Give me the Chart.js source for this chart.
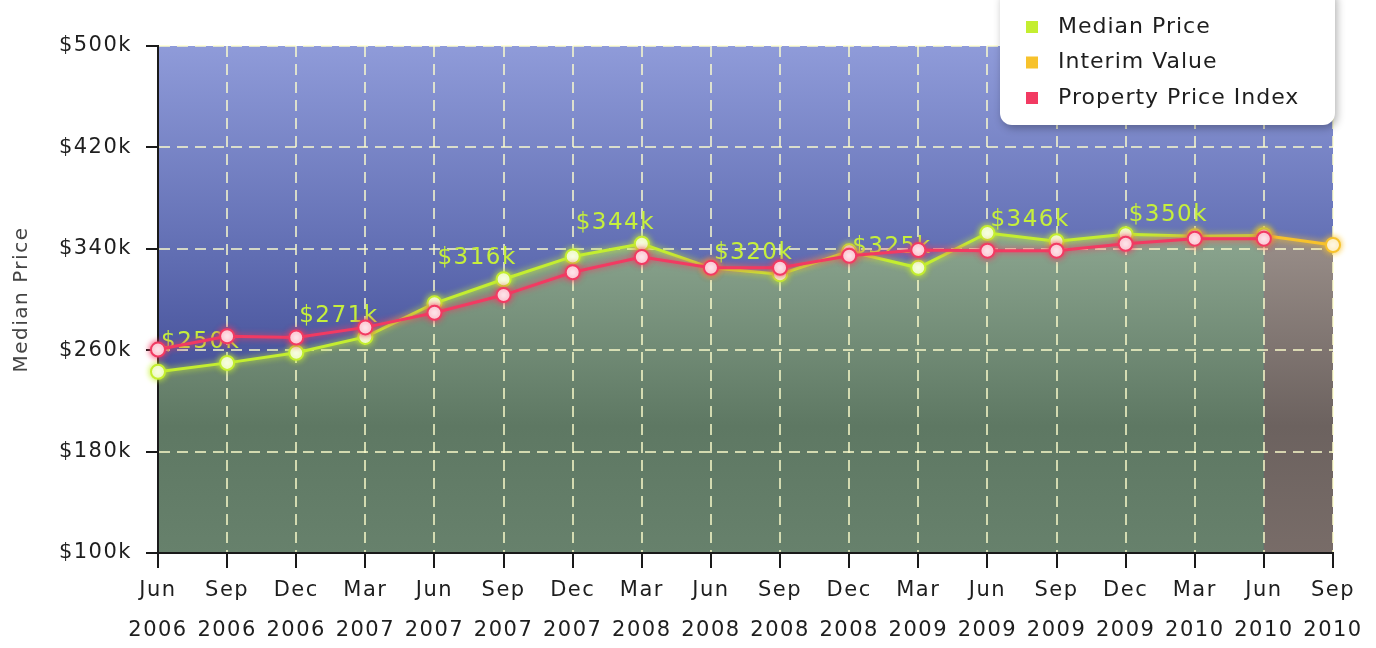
<!DOCTYPE html>
<html>
<head>
<meta charset="utf-8">
<title>Median Price</title>
<script src="https://cdn.jsdelivr.net/npm/chart.js@4"></script>
<style>
    html, body { margin: 0; padding: 0; background: #fff; }
    #wrap { width: 1376px; height: 648px; }
</style>
</head>
<body>
<div id="wrap"><canvas id="priceChart"></canvas></div>
<script>
// Quarter labels (two lines each)
const monthLabels = ['Jun', 'Sep', 'Dec', 'Mar', 'Jun', 'Sep', 'Dec', 'Mar', 'Jun', 'Sep', 'Dec', 'Mar', 'Jun', 'Sep', 'Dec', 'Mar', 'Jun', 'Sep'];
const yearLabels = ['2006', '2006', '2006', '2007', '2007', '2007', '2007', '2008', '2008', '2008', '2008', '2009', '2009', '2009', '2009', '2010', '2010', '2010'];

// Values in $k
const medianPrice = [243, 250, 258, 270.5, 297, 316, 334, 344, 325, 320, 338, 325, 352.5, 346, 351.5, 350, 350.5, null];
const interimValue = [null, null, null, null, null, null, null, null, null, null, null, null, null, null, null, null, 350.5, 343];
const priceIndex = [260.5, 271, 270, 278, 289.5, 303.5, 321.5, 333.5, 325, 325, 334.5, 339, 338.5, 338.5, 344, 348, 348, null];

const yTicks = [100, 180, 260, 340, 420, 500];

const FONT = 'DejaVu Sans';
const lime = '#c4ee30';
const orange = '#f7c22c';
const red = '#f23a62';
const gridColor = 'rgba(255, 255, 205, 0.72)';

// vertical gradient over the chart area
function areaGradient(stops) {
    return (c) => {
        const a = c.chart.chartArea;
        if (!a) return 'transparent';
        const g = c.chart.ctx.createLinearGradient(0, a.top, 0, a.bottom);
        stops.forEach(([pos, col]) => g.addColorStop(pos, col));
        return g;
    };
}

// Plot background; has to run before the filler so the areas sit on top of it
const backdrop = {
    id: 'backdrop',
    beforeLayout(chart) {
        chart.ctx.letterSpacing = '1.5px';
    },
    beforeDraw(chart) {
        const { ctx, chartArea: a } = chart;
        const g = ctx.createLinearGradient(0, a.top, 0, a.bottom);
        g.addColorStop(0, '#8f9bd9');
        g.addColorStop(0.42, '#606db2');
        g.addColorStop(0.65, '#47529a');
        g.addColorStop(1, '#3c4688');
        ctx.save();
        ctx.fillStyle = g;
        ctx.fillRect(a.left, a.top, a.right - a.left, a.bottom - a.top);
        ctx.restore();
        ctx.letterSpacing = '1.5px';
    }
};

const filler = Chart.registry.getPlugin('filler');
Chart.unregister(filler);
Chart.register(backdrop, filler);

// Soft glow round lines and markers, plus the value labels on the median series
const glow = {
    id: 'glow',
    beforeDatasetDraw(chart, args) {
        const ctx = chart.ctx;
        ctx.save();
        ctx.shadowColor = chart.data.datasets[args.index].borderColor;
        ctx.shadowBlur = 6;
    },
    afterDatasetDraw(chart, args) {
        const ctx = chart.ctx;
        ctx.restore();
        if (args.index !== 0) return;
        const pts = args.meta.data;
        ctx.save();
        ctx.font = '23px "' + FONT + '"';
        ctx.letterSpacing = '1.5px';
        ctx.fillStyle = '#c6ef3c';
        ctx.textAlign = 'left';
        ctx.textBaseline = 'middle';
        pts.forEach((pt, i) => {
            if (i % 2 === 0 || medianPrice[i] == null) return;
            ctx.fillText('$' + Math.round(medianPrice[i]) + 'k', pts[i - 1].x + 3, pt.y - 21);
        });
        ctx.restore();
    }
};

// Legend box in the top right corner
const boxLegend = {
    id: 'boxLegend',
    afterDraw(chart) {
        const { ctx, chartArea: a } = chart;
        const right = a.right + 2;
        const left = right - 335;
        ctx.save();
        ctx.shadowColor = 'rgba(0, 0, 0, 0.3)';
        ctx.shadowBlur = 8;
        ctx.shadowOffsetX = 2;
        ctx.shadowOffsetY = 3;
        ctx.fillStyle = '#fff';
        ctx.beginPath();
        ctx.roundRect(left, -12, right - left, 137, 12);
        ctx.fill();
        ctx.shadowColor = 'transparent';
        ctx.font = '22px "' + FONT + '"';
        ctx.letterSpacing = '1px';
        ctx.textBaseline = 'middle';
        ctx.textAlign = 'left';
        chart.data.datasets.forEach((ds, i) => {
            const y = 27 + i * 35.5;
            ctx.fillStyle = ds.borderColor;
            ctx.fillRect(left + 26, y - 6, 12, 12);
            ctx.fillStyle = '#1e1e1e';
            ctx.fillText(ds.label, left + 58, y);
        });
        ctx.restore();
    }
};

const seriesStyle = {
    borderWidth: 3,
    pointRadius: 7,
    pointBorderWidth: 2,
    pointBackgroundColor: '#fff',
    tension: 0,
    clip: false
};

new Chart(document.getElementById('priceChart'), {
    type: 'line',
    data: {
        labels: monthLabels.map((m, i) => [m, yearLabels[i]]),
        datasets: [
            {
                ...seriesStyle,
                label: 'Median Price',
                data: medianPrice,
                borderColor: lime,
                pointBorderColor: lime,
                fill: 'start',
                backgroundColor: areaGradient([[0, '#9ab49c'], [0.4, '#88a28c'], [0.75, '#5e7863'], [1, '#67816c']]),
                order: 1
            },
            {
                ...seriesStyle,
                label: 'Interim Value',
                data: interimValue,
                borderColor: orange,
                pointBorderColor: orange,
                fill: 'start',
                backgroundColor: areaGradient([[0, '#a49995'], [0.4, '#968b86'], [0.75, '#6c625f'], [1, '#786c68']]),
                order: 2
            },
            {
                ...seriesStyle,
                label: 'Property Price Index',
                data: priceIndex,
                borderColor: red,
                pointBorderColor: red,
                fill: false,
                order: 0
            }
        ]
    },
    options: {
        responsive: true,
        maintainAspectRatio: false,
        animation: false,
        events: [],
        layout: { padding: { top: 46, right: 43, left: 0, bottom: 0 } },
        plugins: {
            legend: { display: false },
            tooltip: { enabled: false },
            filler: { drawTime: 'beforeDraw' }
        },
        scales: {
            x: {
                offset: false,
                afterFit: (s) => { s.height = 95; },
                border: { display: true, color: '#1a1a1a', width: 2, dash: [11, 7] },
                grid: { color: gridColor, lineWidth: 2, tickLength: 15, tickColor: '#1a1a1a', tickWidth: 2, tickBorderDash: [] },
                ticks: {
                    color: '#1e1e1e',
                    font: { family: FONT, size: 21, lineHeight: 1.9 },
                    padding: 3,
                    maxRotation: 0,
                    autoSkip: false
                }
            },
            y: {
                min: 100,
                max: 500,
                afterBuildTicks: (s) => { s.ticks = yTicks.map(v => ({ value: v })); },
                afterFit: (s) => { s.width = 158; },
                border: { display: true, color: '#1a1a1a', width: 2, dash: [11, 7] },
                grid: { color: gridColor, lineWidth: 2, tickLength: 12, tickColor: '#1a1a1a', tickWidth: 2, tickBorderDash: [] },
                ticks: {
                    color: '#1e1e1e',
                    font: { family: FONT, size: 21 },
                    padding: 14,
                    callback: (v) => '$' + v + 'k'
                },
                title: {
                    display: true,
                    text: 'Median Price',
                    color: '#444',
                    font: { family: FONT, size: 20 },
                    padding: { top: 10, bottom: 0 }
                }
            }
        }
    },
    plugins: [glow, boxLegend]
});
</script>
</body>
</html>
